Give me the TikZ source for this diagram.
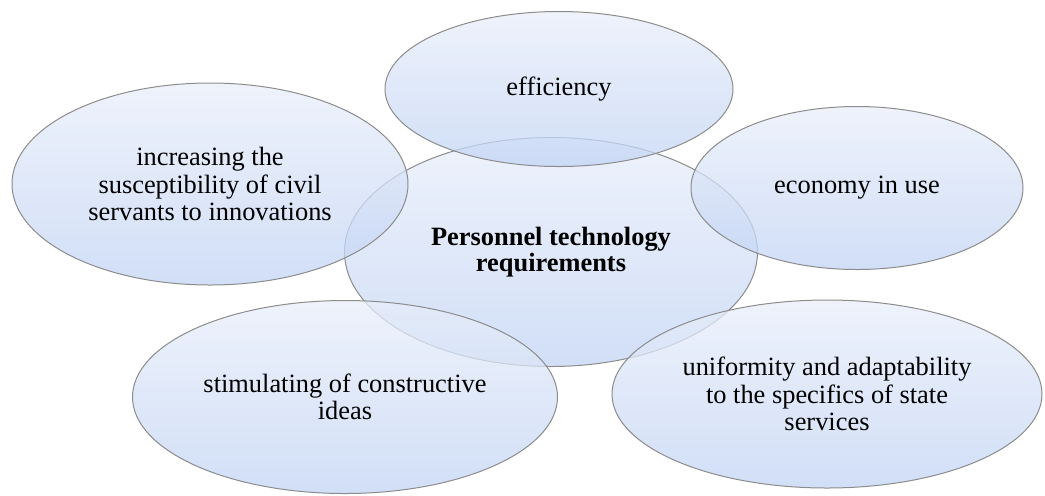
\documentclass[tikz,border=0pt]{standalone}
\usepackage{fontspec}
\setmainfont{Liberation Serif}
\usetikzlibrary{positioning, shapes.geometric}
\definecolor{bubbletop}{RGB}{232,238,250}
\definecolor{bubblebottom}{RGB}{194,212,244}
\definecolor{bubbleline}{RGB}{140,140,140}

\begin{document}
\begin{tikzpicture}[x=0.5pt, y=-0.5pt,
  bubble/.style={ellipse, draw=bubbleline, line width=0.5pt, inner sep=0pt,
    top color=bubbletop, bottom color=bubblebottom, fill opacity=0.75, text opacity=1,
    align=center, font=\fontsize{13.2}{13.75}\selectfont}]
  \useasboundingbox (0,0) rectangle (1045,495);

  % Centre
  \node[bubble, minimum width=206.5pt, minimum height=114.5pt, font=\fontsize{13.2}{11.7}\selectfont\bfseries]
    (req) at (551,252) {Personnel technology\\requirements};

  % Requirements around it
  \node[bubble, minimum width=174pt, minimum height=77.5pt] (eff) at (559,89) {efficiency};
  \node[bubble, minimum width=198pt, minimum height=101pt] (innov) at (210,184)
    {increasing the\\susceptibility of civil\\servants to innovations};
  \node[bubble, minimum width=166pt, minimum height=81.5pt] (econ) at (857,188) {economy in use};
  \node[bubble, minimum width=212.5pt, minimum height=96.5pt] (ideas) at (345,397)
    {stimulating of constructive\\ideas};
  \node[bubble, minimum width=215pt, minimum height=94pt] (unif) at (827,394)
    {uniformity and adaptability\\to the specifics of state\\services};
\end{tikzpicture}
\end{document}
